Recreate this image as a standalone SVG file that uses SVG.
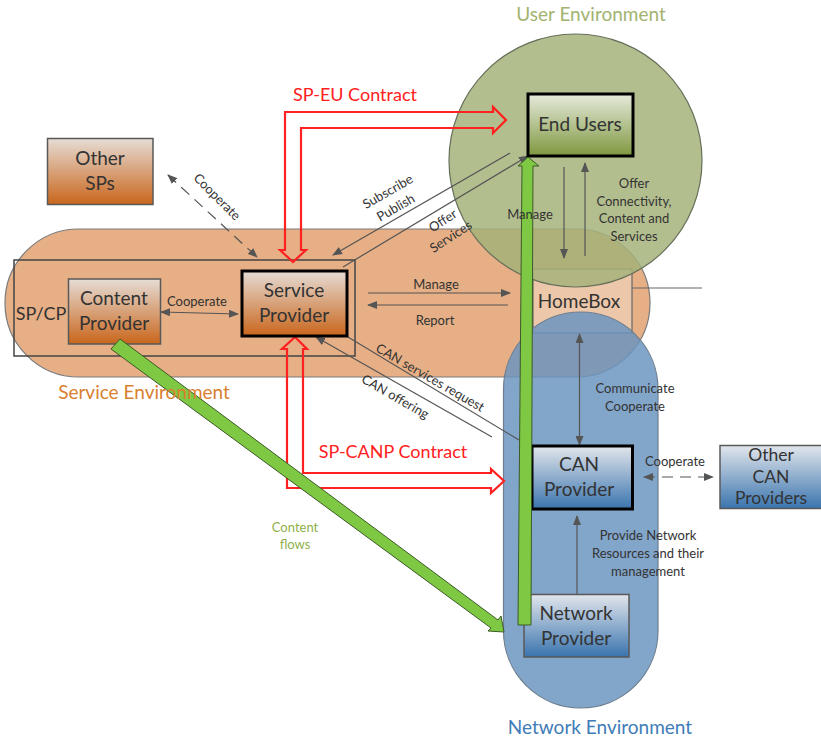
<svg xmlns="http://www.w3.org/2000/svg" width="821" height="738" viewBox="0 0 821 738">
<style>
text{font-family:Lato,"Liberation Sans",sans-serif;fill:#333;text-anchor:middle}
.n{font-size:19px}.s{font-size:13px}.c{font-size:17.500px}.env{font-size:19px}.red{font-size:18px;fill:#ff2020}
.box{stroke:#595959;stroke-width:1.5}.bold{stroke:#000;stroke-width:3}
.l{fill:none;stroke:#555;stroke-width:1.2}
.d{stroke-dasharray:11 7}
.r{fill:none;stroke:#ff2020;stroke-width:2.200;stroke-linejoin:miter}
.g{fill:#7fc843;stroke:#3c5a28;stroke-width:1}
</style>
<defs>
<linearGradient id="o" x1="0" y1="0" x2="0" y2="1"><stop offset="0" stop-color="#e6dcd5"/><stop offset="1" stop-color="#c9661c"/></linearGradient>
<linearGradient id="b" x1="0" y1="0" x2="0" y2="1"><stop offset="0" stop-color="#e2e6ec"/><stop offset="1" stop-color="#3a74ae"/></linearGradient>
<linearGradient id="v" x1="0" y1="0" x2="0" y2="1"><stop offset="0" stop-color="#e6eadc"/><stop offset="1" stop-color="#7f9840"/></linearGradient>
<marker id="a" markerWidth="10" markerHeight="8" refX="9" refY="4" orient="auto-start-reverse" markerUnits="userSpaceOnUse"><path d="M0 0L10 4L0 8z" fill="#555"/></marker>
</defs>
<g id="service-env"><rect x="5" y="229" width="645" height="148" rx="74" fill="#e6af85" stroke="#7a7a7a" stroke-width="1.2"/></g>
<g id="homebox"><rect x="533" y="269" width="99" height="64" fill="#fff" fill-opacity=".3" stroke="#666" stroke-width="1.2"/><path d="M632 288H702" stroke="#666" stroke-width="1.2"/></g>
<g id="network-env"><rect x="503.500" y="312" width="154.500" height="396" rx="77" fill="#6a94c0" fill-opacity=".84" stroke="#6f7f90" stroke-width="1.2"/></g>
<g id="user-env"><circle cx="575.500" cy="160.500" r="126.500" fill="#a5b27a" fill-opacity=".84" stroke="#66705a" stroke-width="1.2"/></g>
<g id="sp-cp"><rect x="14" y="260" width="341" height="96" fill="none" stroke="#444" stroke-width="1.500"/></g>
<g id="connectors">
<path class="l d" d="M168 175L257 257" marker-start="url(#a)" marker-end="url(#a)"/>
<path class="l" d="M161 312L238 314" marker-start="url(#a)" marker-end="url(#a)"/>
<path class="l" d="M510 153L333 255" marker-end="url(#a)"/>
<path class="l" d="M343 267L528 156" marker-end="url(#a)"/>
<path class="l" d="M368 293H510" marker-end="url(#a)"/>
<path class="l" d="M508 305H368" marker-end="url(#a)"/>
<path class="l" d="M338 331L519 440"/>
<path class="l" d="M492 437L316 337" marker-end="url(#a)"/>
<path class="l" d="M579.500 334V445" marker-start="url(#a)" marker-end="url(#a)"/>
<path class="l" d="M577 594V516" marker-end="url(#a)"/>
<path class="l d" d="M644 477H713" marker-start="url(#a)" marker-end="url(#a)"/>
<path class="l" d="M564 167V258" marker-end="url(#a)"/>
<path class="l" d="M585 256V163" marker-end="url(#a)"/>
<path class="r" d="M285 250V112H493V107L506 120L493 133V128H301V250H306L293 262L280 250Z"/>
<path class="r" d="M287 349V488H491V493L504 481L491 469V473H303V349H307L295 337L282 349Z"/>
</g>
<g id="other-sps"><rect class="box" x="47.500" y="138.500" width="105.500" height="66" fill="url(#o)"/><text class="n" x="100" y="165">Other</text><text class="n" x="100" y="190">SPs</text></g>
<g id="content-provider"><rect class="box" x="68.500" y="279" width="92" height="65" fill="url(#o)"/><text class="n" x="114" y="305">Content</text><text class="n" x="114" y="330">Provider</text></g>
<g id="service-provider"><rect class="bold" x="242" y="271" width="105" height="65" fill="url(#o)"/><text class="n" x="294" y="297">Service</text><text class="n" x="294" y="322">Provider</text></g>
<g id="end-users"><rect class="bold" x="528" y="94" width="105" height="62" fill="url(#v)"/><text class="n" x="580" y="131">End Users</text></g>
<g id="can-provider"><rect class="bold" x="532" y="446" width="100.500" height="63" fill="url(#b)"/><text class="n" x="579" y="471">CAN</text><text class="n" x="579" y="496">Provider</text></g>
<g id="network-provider"><rect class="box" x="524" y="594.500" width="105" height="62.500" fill="url(#b)"/><text class="n" x="576" y="620">Network</text><text class="n" x="576" y="645">Provider</text></g>
<g id="other-can"><rect class="box" x="720" y="445.500" width="102" height="63" fill="url(#b)"/><text class="c" x="771" y="461">Other</text><text class="c" x="771" y="483">CAN</text><text class="c" x="771" y="504">Providers</text></g>
<g id="flows">
<path class="g" d="M111 349L120 339L498 620L501 616L504 632L488 631L491 628Z"/>
<path class="g" d="M518 625L522 166H518L528 157L539 166H533L531 625Z"/>
</g>
<text class="n" style="font-size:18px" x="41" y="320">SP/CP</text>
<text class="n" x="579" y="308">HomeBox</text>
<text class="env" style="fill:#a3b36f" x="591" y="21">User Environment</text>
<text class="env" style="fill:#d9802f" x="144" y="399">Service Environment</text>
<text class="env" style="fill:#3f7cb8" x="600" y="734">Network Environment</text>
<text class="red" x="355" y="101">SP-EU Contract</text>
<text class="red" x="393" y="458">SP-CANP Contract</text>
<text class="s" style="fill:#8fb04a" x="295" y="532">Content</text>
<text class="s" style="fill:#8fb04a" x="295" y="549">flows</text>
<text class="s" x="197" y="306">Cooperate</text>
<text class="s" x="214" y="200" transform="rotate(45 214 200)">Cooperate</text>
<text class="s" x="388" y="196" transform="rotate(-30 388 192)">Subscribe</text>
<text class="s" x="396" y="212" transform="rotate(-30 396 208)">Publish</text>
<text class="s" x="443" y="225" transform="rotate(-33 443 221)">Offer</text>
<text class="s" x="451" y="241" transform="rotate(-33 451 237)">Services</text>
<text class="s" x="530" y="219">Manage</text>
<text class="s" x="634" y="188">Offer</text>
<text class="s" x="634" y="206">Connectivity,</text>
<text class="s" x="634" y="223">Content and</text>
<text class="s" x="634" y="241">Services</text>
<text class="s" x="436" y="289">Manage</text>
<text class="s" x="435" y="325">Report</text>
<text class="s" x="430" y="382" transform="rotate(30 430 378)">CAN services request</text>
<text class="s" x="395" y="401" transform="rotate(30 395 397)">CAN offering</text>
<text class="s" x="635" y="393">Communicate</text>
<text class="s" x="635" y="411">Cooperate</text>
<text class="s" x="675" y="466">Cooperate</text>
<text class="s" x="648" y="540">Provide Network</text>
<text class="s" x="648" y="558">Resources and their</text>
<text class="s" x="648" y="576">management</text>
</svg>
